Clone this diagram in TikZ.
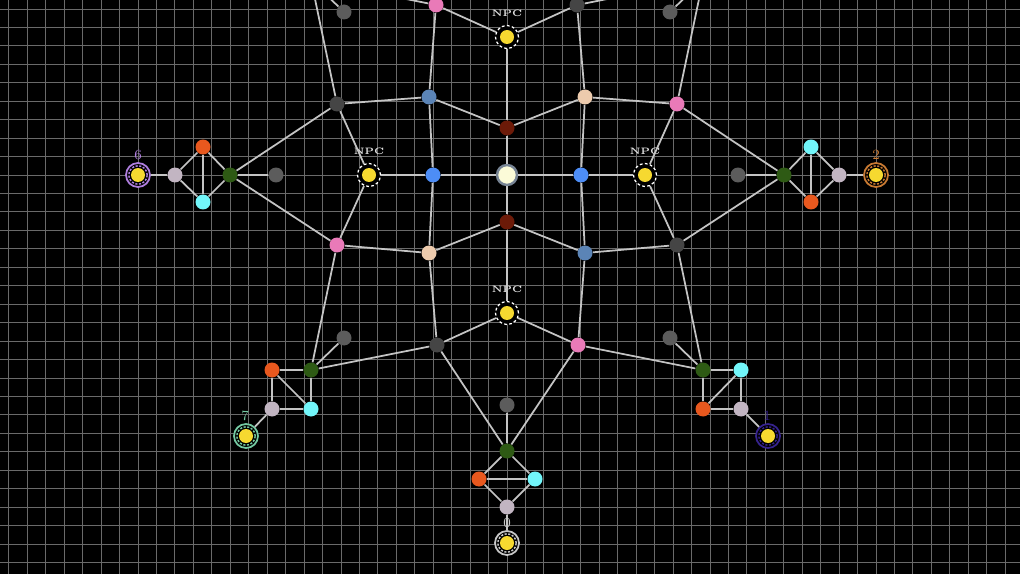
\documentclass[tikz,border=0pt]{standalone}
\definecolor{cgreen}{HTML}{2E5A14}
\definecolor{corange}{HTML}{E8581E}
\definecolor{ccyan}{HTML}{72F6FA}
\definecolor{clilac}{HTML}{C2B5C2}
\definecolor{cgrayn}{HTML}{5C5C5C}
\definecolor{cdgray}{HTML}{454545}
\definecolor{cpink}{HTML}{E97AB8}
\definecolor{csteel}{HTML}{5B84B6}
\definecolor{cpeach}{HTML}{EDCBAD}
\definecolor{cbrown}{HTML}{6C1A08}
\definecolor{cblue}{HTML}{4D8DF6}
\definecolor{cyellow}{HTML}{F6D930}
\definecolor{hubfill}{HTML}{FBFBD8}
\definecolor{hubring}{HTML}{778494}
\definecolor{linkgray}{HTML}{C4C4C4}
\definecolor{gridgray}{HTML}{6A6A6A}
\definecolor{rsix}{HTML}{B07FE0}
\definecolor{rtwo}{HTML}{C97A32}
\definecolor{rseven}{HTML}{74C9A2}
\definecolor{rone}{HTML}{36238E}
\definecolor{rzero}{HTML}{C8C8C8}
\definecolor{npctext}{HTML}{E0E0E0}
\tikzset{
  dot/.style={circle, inner sep=0pt, minimum size=0.3cm, fill=#1},
  npc/.style={circle, inner sep=0pt, minimum size=0.46cm, draw=white, line width=0.7pt,
    dash pattern=on 1.6pt off 1.3pt, fill=black,
    path picture={\fill[cyellow] (path picture bounding box.center) circle (0.14cm);}},
  sun/.style={circle, inner sep=0pt, minimum size=0.48cm, draw=#1, line width=1pt, fill=black,
    path picture={\draw[#1, line width=0.8pt, dash pattern=on 1.2pt off 0.9pt]
      (path picture bounding box.center) circle (0.185cm);
      \fill[cyellow] (path picture bounding box.center) circle (0.14cm);}},
  hub/.style={circle, inner sep=0pt, minimum size=0.4cm, fill=hubfill, draw=hubring, line width=1.4pt},
  link/.style={draw=linkgray, line width=1pt},
  npclabel/.style={text=npctext, font=\fontsize{5.3}{6}\selectfont\bfseries, inner sep=0pt},
  numlabel/.style={text=#1, font=\fontsize{8}{9}\selectfont, inner sep=0pt},
  gridline/.style={draw=gridgray, line width=0.5pt}
}
\begin{document}
\begin{tikzpicture}[x=0.02cm, y=-0.02cm]
\useasboundingbox (0,0) rectangle (1020,574);
\fill[black] (0,0) rectangle (1020,574);
\clip (0,0) rectangle (1020,574);
% grid
\foreach \i in {-28,...,28} \draw[gridline] ({507+\i*18.45},0) -- ({507+\i*18.45},574);
\foreach \j in {-10,...,22} \draw[gridline] (0,{175+\j*18.45}) -- (1020,{175+\j*18.45});

% centre and inner ring
\node[hub] (C) at (507,175) {};
\node[dot=cbrown] (brT) at (507,128) {};
\node[dot=cbrown] (brB) at (507,222) {};
\node[dot=cblue] (blL) at (433,175) {};
\node[dot=cblue] (blR) at (581,175) {};
\node[npc] (npcT) at (507,37) {};
\node[npc] (npcB) at (507,313) {};
\node[npc] (npcL) at (369,175) {};
\node[npc] (npcR) at (645,175) {};
\node[npclabel] (labT) at (507,13) {NPC};
\node[npclabel] (labB) at (507,289) {NPC};
\node[npclabel] (labL) at (369,151) {NPC};
\node[npclabel] (labR) at (645,151) {NPC};
\node[dot=csteel] (sbTL) at (429,97) {};
\node[dot=csteel] (sbBR) at (585,253) {};
\node[dot=cpeach] (peTR) at (585,97) {};
\node[dot=cpeach] (peBL) at (429,253) {};
\node[dot=cdgray] (dgTL) at (337,104) {};
\node[dot=cdgray] (dgBR) at (677,245) {};
\node[dot=cpink] (pkTR) at (677,104) {};
\node[dot=cpink] (pkBL) at (337,245) {};
\node[dot=cdgray] (dgB) at (437,345) {};
\node[dot=cdgray] (dgT) at (577,5) {};
\node[dot=cpink] (pkB) at (578,345) {};
\node[dot=cpink] (pkT) at (436,5) {};

% cluster 0 (bottom)
\node[dot=cgreen] (g0) at (507,451) {};
\node[dot=cgrayn] (y0) at (507,405) {};
\node[dot=corange] (o0) at (479,479) {};
\node[dot=ccyan] (c0) at (535,479) {};
\node[dot=clilac] (l0) at (507,507) {};
\node[sun=rzero] (s0) at (507,543) {};
\node[numlabel=rzero] (n0) at (507,523) {0};
% cluster 6 (left)
\node[dot=cgreen] (g6) at (230,175) {};
\node[dot=cgrayn] (y6) at (276,175) {};
\node[dot=corange] (o6) at (203,147) {};
\node[dot=ccyan] (c6) at (203,202) {};
\node[dot=clilac] (l6) at (175,175) {};
\node[sun=rsix] (s6) at (138,175) {};
\node[numlabel=rsix] (n6) at (138,155) {6};
% cluster 2 (right)
\node[dot=cgreen] (g2) at (784,175) {};
\node[dot=cgrayn] (y2) at (738,175) {};
\node[dot=corange] (o2) at (811,202) {};
\node[dot=ccyan] (c2) at (811,147) {};
\node[dot=clilac] (l2) at (839,175) {};
\node[sun=rtwo] (s2) at (876,175) {};
\node[numlabel=rtwo] (n2) at (876,155) {2};
% cluster 7 (bottom left)
\node[dot=cgreen] (g7) at (311,370) {};
\node[dot=cgrayn] (y7) at (344,338) {};
\node[dot=corange] (o7) at (272,370) {};
\node[dot=ccyan] (c7) at (311,409) {};
\node[dot=clilac] (l7) at (272,409) {};
\node[sun=rseven] (s7) at (246,436) {};
\node[numlabel=rseven] (n7) at (245,416) {7};
% cluster 1 (bottom right)
\node[dot=cgreen] (g1) at (703,370) {};
\node[dot=cgrayn] (y1) at (670,338) {};
\node[dot=corange] (o1) at (703,409) {};
\node[dot=ccyan] (c1) at (741,370) {};
\node[dot=clilac] (l1) at (741,409) {};
\node[sun=rone] (s1) at (768,436) {};
\node[numlabel=rone] (n1) at (767,416) {1};
% clusters above the frame
\node[dot=cgrayn] (y3) at (670,12) {};
\node[dot=cgrayn] (y5) at (344,12) {};
\coordinate (g3) at (703,-20);
\coordinate (g5) at (311,-20);
\coordinate (g4) at (507,-101);

% connectors
\foreach \a/\b in {C/brT, C/brB, C/blL, C/blR,
  brT/npcT, brT/sbTL, brT/peTR, brB/npcB, brB/peBL, brB/sbBR,
  blL/npcL, blL/sbTL, blL/peBL, blR/npcR, blR/peTR, blR/sbBR,
  sbTL/dgTL, sbTL/pkT, peTR/pkTR, peTR/dgT, peBL/pkBL, peBL/dgB, sbBR/dgBR, sbBR/pkB,
  npcT/pkT, npcT/dgT, npcB/dgB, npcB/pkB, npcL/dgTL, npcL/pkBL, npcR/pkTR, npcR/dgBR,
  dgTL/g6, dgTL/g5, pkBL/g6, pkBL/g7, pkTR/g2, pkTR/g3, dgBR/g2, dgBR/g1,
  dgB/g7, dgB/g0, pkB/g1, pkB/g0, pkT/g5, pkT/g4, dgT/g3, dgT/g4,
  y3/g3, y5/g5}
  \draw[link] (\a) -- (\b);
\foreach \k in {0,1,2,6,7}
  \draw[link] (g\k) -- (y\k) (g\k) -- (o\k) (g\k) -- (c\k) (o\k) -- (c\k)
              (o\k) -- (l\k) (c\k) -- (l\k) (l\k) -- (s\k);
\end{tikzpicture}
\end{document}
